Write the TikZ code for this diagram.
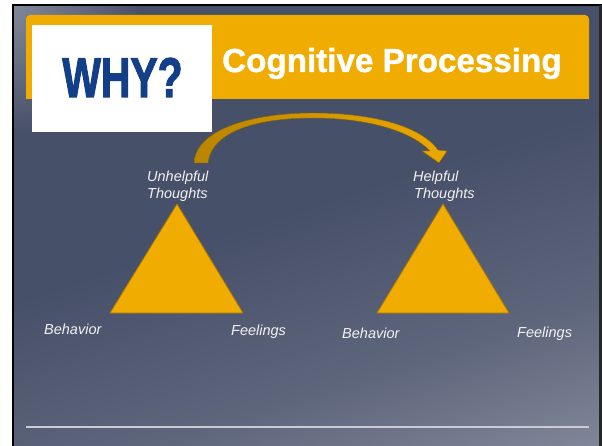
\documentclass[tikz,border=0pt]{standalone}
\usepackage{fontspec}
\setmainfont{Liberation Sans}
\newfontfamily\heavyfont[FakeBold=1.2]{Liberation Sans Bold}
\newfontfamily\heavierfont[FakeBold=2.2]{Liberation Sans Bold}
\usetikzlibrary{fadings}
\definecolor{bgdark}{HTML}{475069}
\definecolor{bgmid}{HTML}{5E667C}
\definecolor{bglight}{HTML}{9A9EAC}
\definecolor{gold}{HTML}{F0AC00}
\definecolor{goldedge}{HTML}{A97A00}
\definecolor{golddark}{HTML}{B98500}
\definecolor{goldlight}{HTML}{EAA800}
\definecolor{whyblue}{HTML}{123F87}
\definecolor{labelcol}{HTML}{F2F2F2}
\definecolor{rulecol}{HTML}{C9CCD4}
\definecolor{glowcol}{HTML}{8C92A2}
\pgfdeclarehorizontalshading{slidebg}{100bp}{color(0bp)=(bgdark); color(48bp)=(bgdark); color(67bp)=(bgmid); color(92bp)=(bglight); color(100bp)=(bglight)}
\tikzfading[name=glowfade, inner color=transparent!15, outer color=transparent!100]
\begin{document}
\begin{tikzpicture}[x=1pt,y=-1pt,
  lbl/.style={text=labelcol, font=\fontsize{14.5}{16.5}\selectfont\itshape, inner sep=0pt, anchor=base west},
  tri/.style={fill=gold, draw=goldedge, line width=0.8pt, line join=round}]
\useasboundingbox (0,0) rectangle (602,446);
\fill[white] (0,0) rectangle (602,446);
% slide background
\shade[shading=slidebg, shading angle=-72] (12,5) rectangle (602,446);
\begin{scope}
  \clip (12,5) rectangle (602,446);
  \fill[glowcol, path fading=glowfade] (12,5) circle (130);
\end{scope}
% frame
\draw[black, line width=2pt] (12.5,446) -- (12.5,5) -- (602,5);
\draw[black!85, line width=3pt] (600.5,5) -- (600.5,446);
% header band
\fill[gold] (26,99) [rounded corners=4pt] -- (26,15) -- (589,15) [sharp corners] -- (589,99) -- cycle;
% white picture box
\fill[white] (32,25) rectangle (212,132);
\node[text=whyblue, font=\fontsize{56}{56}\selectfont\heavierfont, inner sep=0pt, anchor=base] (why) at (122.5,97) {\scalebox{0.73}[1]{WHY?}};
\node[text=white, font=\fontsize{33.2}{34}\selectfont\heavyfont, inner sep=0pt, anchor=base west] (title) at (222,72) {Cognitive Processing};
% bottom rule
\draw[rulecol, line width=1.2pt] (26,427) -- (589,427);
% triangles
\draw[tri] (177,204) -- (243,313) -- (110,313) -- cycle;
\draw[tri] (443,204) -- (509,313) -- (377,313) -- cycle;
% curved arrow
\shade[left color=golddark, right color=goldlight, draw=goldedge!80!black, line width=0.4pt, line join=round]
  (208,163) -- (194,163)
  .. controls (196,128) and (255,113) .. (313,113)
  .. controls (370,113) and (420,125) .. (438,150)
  -- (447,151) -- (439,163) -- (422,151) -- (430,151)
  .. controls (410,130) and (365,118) .. (313,118)
  .. controls (260,118) and (212,130) .. (208,163) -- cycle;
% labels
\node[lbl] (u1) at (147,182) {Unhelpful};
\node[lbl] (u2) at (147,199) {Thoughts};
\node[lbl] (h1) at (413,182) {Helpful};
\node[lbl] (h2) at (414,199) {Thoughts};
\node[lbl] (b1) at (44,334) {Behavior};
\node[lbl] (f1) at (231,335) {Feelings};
\node[lbl] (b2) at (342,338) {Behavior};
\node[lbl] (f2) at (517,337) {Feelings};
\end{tikzpicture}
\end{document}
